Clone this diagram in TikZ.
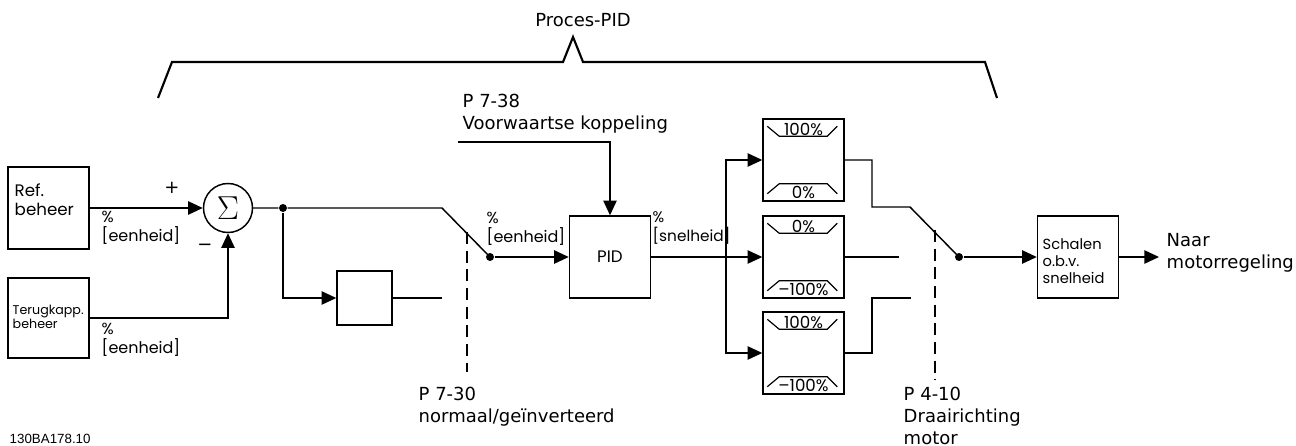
\documentclass[tikz,border=0pt]{standalone}
\usepackage{fontspec}
\setmainfont{DejaVu Sans}
\newfontfamily\boxfont{Poppins}
\newfontfamily\codefont{Liberation Sans}
\usetikzlibrary{arrows.meta,calc}
\begin{document}
\begin{tikzpicture}[x=0.75pt,y=-0.75pt,
  line width=1.1pt,
  blk/.style={draw,rectangle,inner sep=0pt,minimum width=60.75pt,minimum height=61.5pt},
  arr/.style={-{Triangle[length=11pt,width=10pt]}},
  dot/.style={circle,fill,inner sep=0pt,minimum size=6pt},
  lbl/.style={font=\fontsize{13.5}{16.5}\selectfont,align=left,inner sep=0pt},
  btxt/.style={font=\boxfont\fontsize{12}{14.5}\selectfont,align=left,inner sep=0pt},
  ltxt/.style={font=\boxfont\fontsize{12.5}{12.5}\selectfont,inner sep=0pt},
  dsh/.style={dash pattern=on 9pt off 5pt},
  sym/.style={line width=0.9pt}
]
\useasboundingbox (0,0) rectangle (1296,446);

% bracket
\draw[line width=1.6pt] (158,98) -- (172,62) -- (563,62) -- (573,37) -- (583,62) -- (985,62) -- (997,98);
\node[lbl] (proc) at (583,20) {Proces-PID};

% inputs
\node[blk] (ref) at (48.5,208) {};
\node[btxt,font=\boxfont\fontsize{12.5}{14.5}\selectfont,anchor=west] (reft) at (14,199.5) {Ref.\\beheer};
\node[blk,minimum height=60pt] (terug) at (48.5,318) {};
\node[btxt,font=\boxfont\fontsize{9.5}{10.5}\selectfont,anchor=west] (terugt) at (12,317) {Terugkapp.\\beheer};
\node[draw,circle,inner sep=0pt,minimum size=36.75pt] (sum) at (228,208) {\fontsize{26}{26}\selectfont$\Sigma$};
\draw[arr] (ref) -- (sum);
\draw[arr] (terug.east) -| (sum.south);
\node[font=\fontsize{13.5}{13.5}\selectfont,inner sep=0pt] (plus) at (172,188) {+};
\node[font=\fontsize{13.5}{13.5}\selectfont,inner sep=0pt] (minus) at (205,247) {−};
\node[btxt,anchor=west] (u1) at (101,228) {\%\\{[eenheid]}};
\node[btxt,anchor=west] (u2) at (101,340) {\%\\{[eenheid]}};

% switch 1
\node[dot] (j1) at (283,208) {};
\coordinate (sw1) at (442,208);
\node[dot] (d1) at (490,257) {};
\draw (sum) -- (j1) -- (sw1) -- (d1.center);
\node[blk,minimum width=41.25pt,minimum height=40.5pt] (small) at (364.5,298) {};
\draw[arr] (j1) |- (small);
\coordinate (smo) at (442,298);
\draw (small) -- (smo);
\coordinate (ds1) at (467,232);
\coordinate (de1) at (467,372);
\draw[dsh] (ds1) -- (de1);
\node[lbl,anchor=north west] (p730) at (418,386) {P 7-30\\normaal/geïnverteerd};

% PID
\node[blk] (pid) at (610,257) {\boxfont\fontsize{12.5}{12.5}\selectfont PID};
\draw[arr] (d1) -- (pid);
\coordinate (ff) at (458,142);
\draw[arr] (ff) -| (pid.north);
\node[lbl,anchor=west] (fft) at (462,114) {P 7-38\\Voorwaartse koppeling};
\node[btxt,anchor=west] (u3) at (486,229) {\%\\{[eenheid]}};
\node[btxt,font=\boxfont\fontsize{11.5}{14.5}\selectfont,anchor=west] (u4) at (652,228) {\%\\{[snelheid]}};

% limiters
\node[blk] (lim1) at (803.5,160) {};
\node[blk] (lim2) at (803.5,257) {};
\node[blk] (lim3) at (803.5,353) {};
\coordinate (bus) at (726,257);
\draw[arr] (pid) -- (lim2);
\draw[arr] (bus) |- (lim1);
\draw[arr] (bus) |- (lim3);
\foreach \n in {lim1,lim2,lim3}{
  \draw[sym] ($(\n.north west)+(5,8)$) -- ++(12,10) -- ++(48,0) -- ++(10,-10);
  \draw[sym] ($(\n.south west)+(5,-8)$) -- ++(12,-10) -- ++(48,0) -- ++(10,10);
}
\node[ltxt] (l1a) at ($(lim1.north)+(0,11)$) {100\%};
\node[ltxt] (l1b) at ($(lim1.south)+(0,-9)$) {0\%};
\node[ltxt] (l2a) at ($(lim2.north)+(0,11)$) {0\%};
\node[ltxt] (l2b) at ($(lim2.south)+(0,-9)$) {–100\%};
\node[ltxt] (l3a) at ($(lim3.north)+(0,11)$) {100\%};
\node[ltxt] (l3b) at ($(lim3.south)+(0,-9)$) {–100\%};

% switch 2
\coordinate (a1) at (872,207);
\coordinate (sw2) at (910,207);
\node[dot] (d2) at (959,257) {};
\draw (lim1.east) -| (a1) -- (sw2) -- (d2.center);
\coordinate (m2) at (899,257);
\draw (lim2) -- (m2);
\coordinate (b1) at (872,298);
\coordinate (b2) at (911,298);
\draw (lim3.east) -| (b1) -- (b2);
\coordinate (ds2) at (935,230);
\coordinate (de2) at (935,380);
\draw[dsh] (ds2) -- (de2);
\node[lbl,anchor=north west] (p410) at (903,386) {P 4-10\\Draairichting\\motor};

% output
\node[blk] (sch) at (1078,257) {};
\node[btxt,font=\boxfont\fontsize{11}{12.75}\selectfont,anchor=west] (scht) at (1042,261) {Schalen\\o.b.v.\\snelheid};
\draw[arr] (d2) -- (sch);
\coordinate (out) at (1159,257);
\draw[arr] (sch) -- (out);
\node[lbl,anchor=west] (naar) at (1166,252.5) {Naar\\motorregeling};

\node[font=\codefont\fontsize{10}{10}\selectfont,anchor=west,inner sep=0pt] (code) at (9,439) {130BA178.10};
\end{tikzpicture}
\end{document}
